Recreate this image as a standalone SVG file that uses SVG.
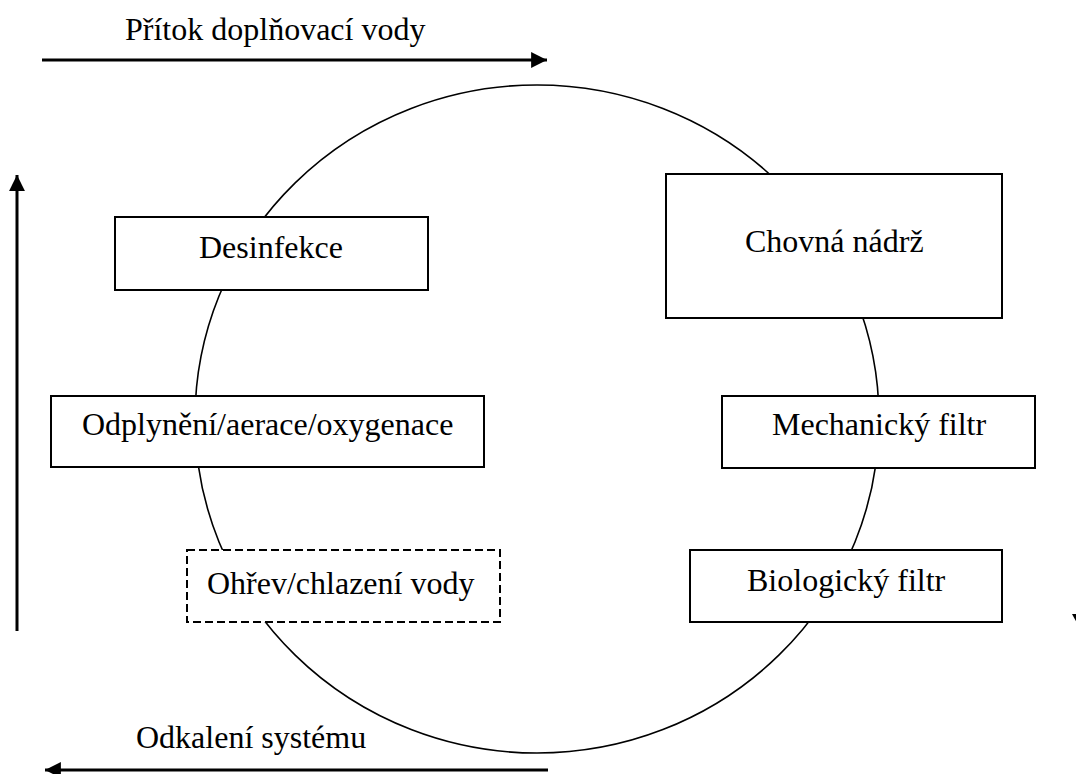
<svg xmlns="http://www.w3.org/2000/svg" width="1076" height="774" viewBox="0 0 1076 774">
<style>
.box{fill:#fff;stroke:#000;stroke-width:2}
.dash{fill:#fff;stroke:#000;stroke-width:2;stroke-dasharray:8,4}
.lbl{font-family:"Liberation Serif","Times New Roman",serif;font-size:32px;fill:#000}
.arr{stroke:#000;stroke-width:3;fill:none}
</style>
<defs>
<marker id="ah" viewBox="0 0 10 10" refX="10" refY="5" markerWidth="5.3" markerHeight="5.3" markerUnits="strokeWidth" orient="auto">
<path d="M0,0 L10,5 L0,10 z" fill="#000"/>
</marker>
</defs>
<rect width="1076" height="774" fill="#fff"/>
<g id="connectors">
<ellipse cx="537" cy="419" rx="342" ry="334" fill="none" stroke="#000" stroke-width="1.6"/>
<line class="arr" x1="42" y1="60" x2="547" y2="60" marker-end="url(#ah)"/>
<line class="arr" x1="548" y1="770" x2="45" y2="770" marker-end="url(#ah)"/>
<line class="arr" x1="17" y1="631" x2="17" y2="175" marker-end="url(#ah)"/>
<polygon points="1072,614 1084,614 1078,625" fill="#000"/>
</g>
<g id="label-inflow"><text class="lbl" x="125" y="40">Přítok doplňovací vody</text></g>
<g id="label-drain"><text class="lbl" x="136" y="748">Odkalení systému</text></g>
<g id="desinfekce">
<rect class="box" x="115" y="217" width="313" height="73"/>
<text class="lbl" x="199" y="258">Desinfekce</text>
</g>
<g id="chovna">
<rect class="box" x="666" y="174" width="336" height="144"/>
<text class="lbl" x="745" y="252">Chovná nádrž</text>
</g>
<g id="odplyneni">
<rect class="box" x="51" y="396" width="433" height="71"/>
<text class="lbl" x="82" y="435">Odplynění/aerace/oxygenace</text>
</g>
<g id="mechanicky">
<rect class="box" x="722" y="396" width="313" height="72"/>
<text class="lbl" x="772" y="435">Mechanický filtr</text>
</g>
<g id="ohrev">
<rect class="dash" x="187" y="550" width="313" height="72"/>
<text class="lbl" x="207" y="594">Ohřev/chlazení vody</text>
</g>
<g id="biologicky">
<rect class="box" x="690" y="550" width="312" height="72"/>
<text class="lbl" x="747" y="591">Biologický filtr</text>
</g>
</svg>
